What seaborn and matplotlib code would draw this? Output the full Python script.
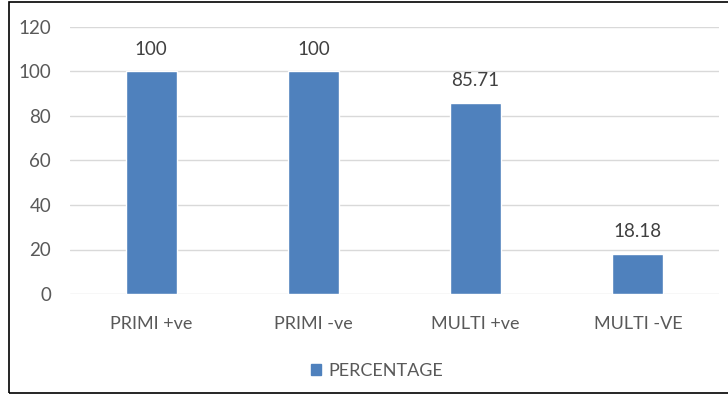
import matplotlib
matplotlib.use("Agg")
import matplotlib.pyplot as plt
import matplotlib.patches as mpatches
import seaborn as sns
import pandas as pd

categories = ["PRIMI +ve", "PRIMI -ve", "MULTI +ve", "MULTI -VE"]
percentages = [100, 100, 85.71, 18.18]
value_labels = ["100", "100", "85.71", "18.18"]
series_name = "PERCENTAGE"
y_ticks = [0, 20, 40, 60, 80, 100, 120]

df = pd.DataFrame({"category": categories, "value": percentages})

sns.set_theme(style="white")
plt.rcParams["font.family"] = ["Lato", "DejaVu Sans"]

bar_color = "#4f81bd"
text_color = "#595959"

fig = plt.figure(figsize=(7.28, 3.95), dpi=100)
ax = fig.add_axes([70 / 728, 1 - 294 / 395, 649 / 728, 267 / 395])

sns.barplot(data=df, x="category", y="value", color=bar_color,
            saturation=1, width=0.315, ax=ax, label=series_name)

ax.set_ylim(0, 120)
ax.set_xlim(-0.5, len(categories) - 0.5)
ax.set_yticks(y_ticks)
ax.yaxis.grid(True, color="#d9d9d9", linewidth=1)
ax.set_axisbelow(True)
for s in ax.spines.values():
    s.set_visible(False)
ax.tick_params(axis="both", length=0, labelsize=13.5, labelcolor=text_color)
ax.tick_params(axis="y", pad=13.5)
ax.tick_params(axis="x", pad=16, labelsize=13)
ax.set_xlabel("")
ax.set_ylabel("")

for i, (v, lab) in enumerate(zip(percentages, value_labels)):
    ax.annotate(lab, xy=(i, v), xytext=(0, 10), textcoords="offset points",
                ha="center", va="bottom", fontsize=13.5, color="#404040")

handles = [mpatches.Patch(color=bar_color, label=series_name)]
fig.legend(handles=handles, loc="center", bbox_to_anchor=(377 / 728, 1 - 371 / 395),
           frameon=False, fontsize=13, handlelength=0.6, handleheight=0.6,
           handletextpad=0.4, labelcolor=text_color)
if ax.get_legend() is not None:
    ax.get_legend().remove()

fig.patches.append(mpatches.Rectangle((9 / 728, 2 / 395), 740 / 728, 391 / 395,
                                      transform=fig.transFigure, fill=False,
                                      edgecolor="black", linewidth=1.2))

fig.savefig("out.png", dpi=100)
